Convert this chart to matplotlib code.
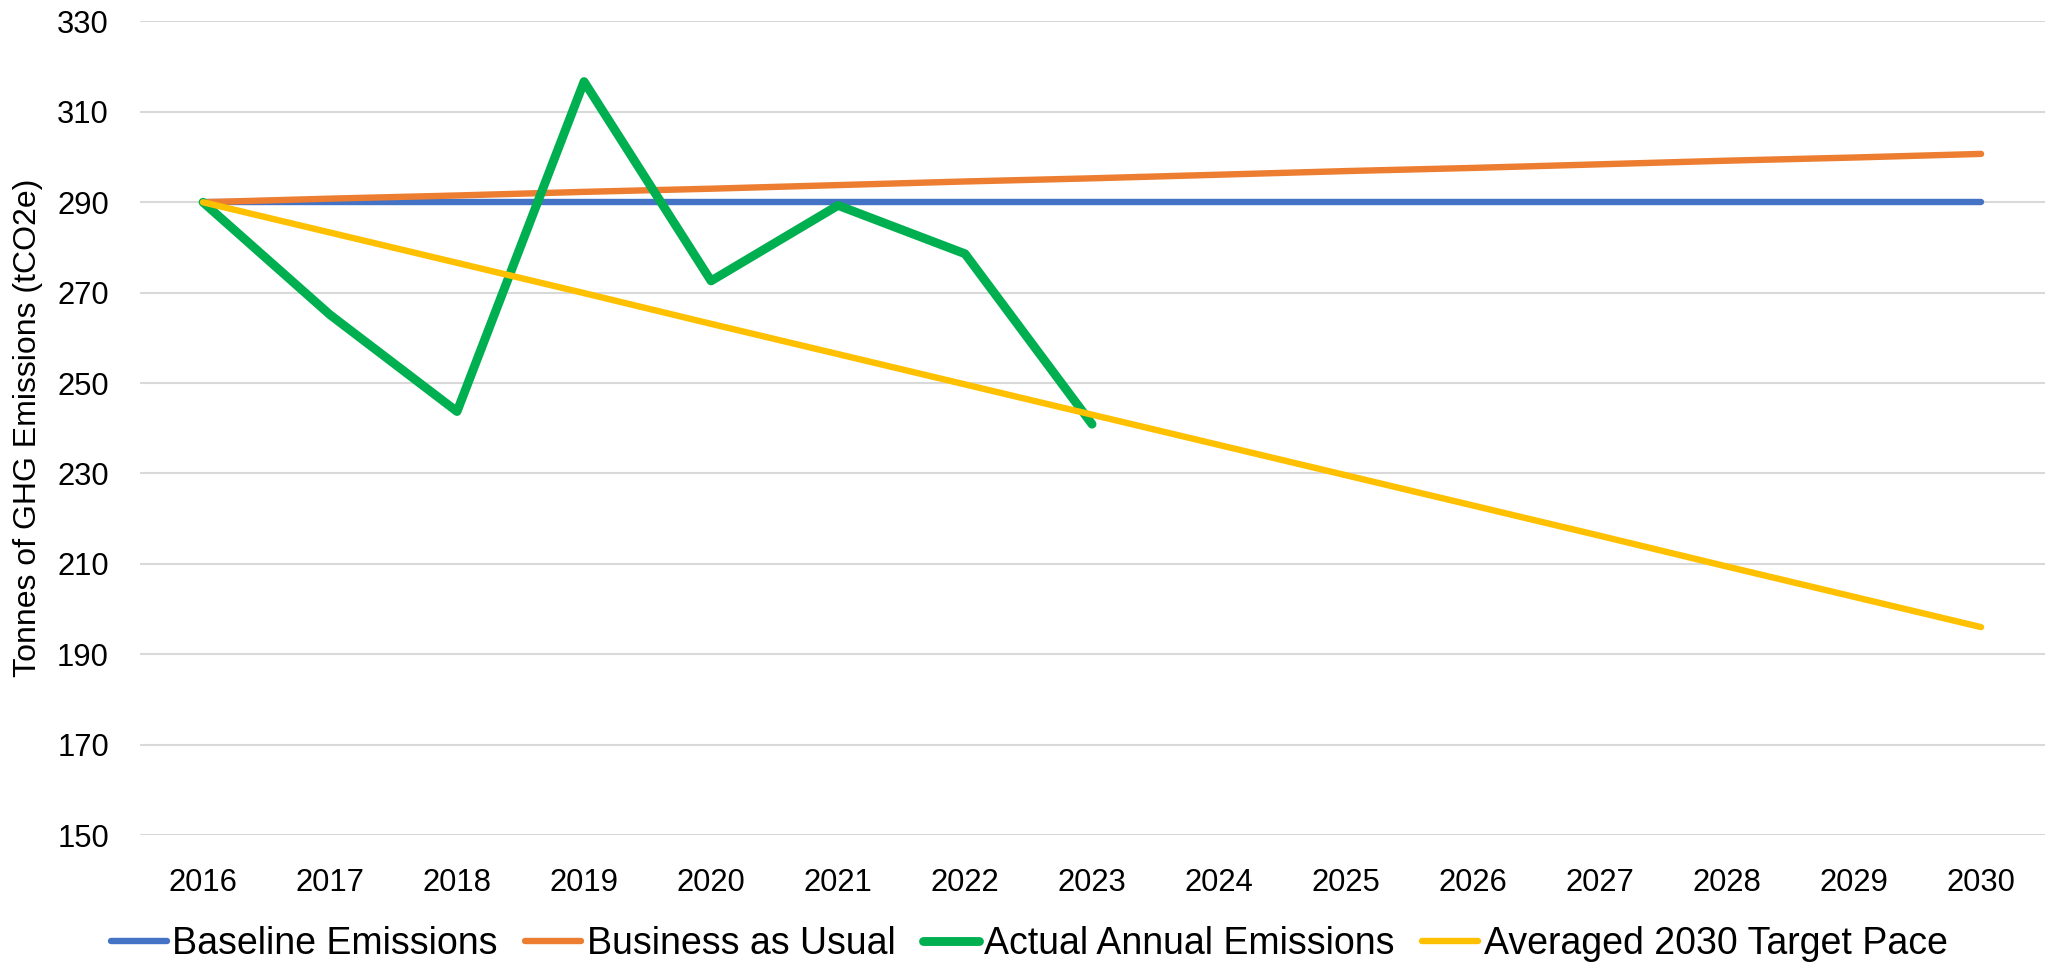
import matplotlib.pyplot as plt

plt.rcParams['font.family'] = ['Liberation Sans', 'DejaVu Sans']

# data
years = ['2016', '2017', '2018', '2019', '2020', '2021', '2022', '2023',
         '2024', '2025', '2026', '2027', '2028', '2029', '2030']
baseline = [290.0] * 15
business_as_usual = [290.0, 290.8, 291.5, 292.3, 293.0, 293.8, 294.6, 295.3,
                     296.1, 296.9, 297.6, 298.4, 299.2, 299.9, 300.7]
actual = [290.0, 265.1, 243.7, 316.7, 272.6, 289.3, 278.6, 240.9]
target_pace = [290.0, 283.3, 276.6, 269.9, 263.1, 256.4, 249.7, 243.0,
               236.3, 229.6, 222.9, 216.2, 209.4, 202.7, 196.0]

fig = plt.figure(figsize=(20.46, 9.63), dpi=100)
ax = fig.add_axes([0.0682, 0.1329, 0.9311, 0.8448])

x = list(range(len(years)))
ax.plot(x, baseline, color='#4472C4', lw=4.6, solid_capstyle='round', label='Baseline Emissions')
ax.plot(x, business_as_usual, color='#ED7D31', lw=4.6, solid_capstyle='round', label='Business as Usual')
ax.plot(x[:len(actual)], actual, color='#00B050', lw=6.4, solid_capstyle='round',
        solid_joinstyle='round', label='Actual Annual Emissions')
ax.plot(x, target_pace, color='#FFC000', lw=4.6, solid_capstyle='round', label='Averaged 2030 Target Pace')

ax.set_xlim(-0.5, len(years) - 0.5)
ax.set_ylim(150, 330)
ax.set_yticks(range(150, 331, 20))
ax.set_xticks(x)
ax.set_xticklabels(years)
ax.grid(axis='y', color='#d9d9d9', lw=1.5)
ax.set_axisbelow(True)
for s in ax.spines.values():
    s.set_visible(False)
ax.tick_params(axis='both', length=0, labelsize=22.3, colors='black')
ax.tick_params(axis='y', pad=22)
ax.tick_params(axis='x', pad=24)

ax.set_ylabel('Tonnes of GHG Emissions (tCO2e)', fontsize=23)
ax.yaxis.set_label_coords(-0.0507, 0.5)

fig.legend(loc='center', bbox_to_anchor=(0.503, 0.02), ncol=4, frameon=False,
           fontsize=27, handlelength=1.5, handletextpad=0.15, columnspacing=0.72)

fig.savefig('out.png', dpi=100)
